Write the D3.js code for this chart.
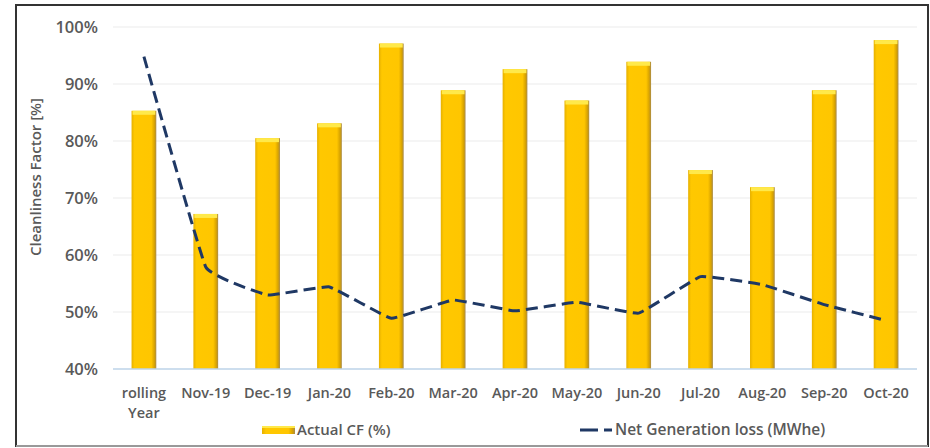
<!DOCTYPE html>
<html><head><meta charset="utf-8">
<script src="https://cdn.jsdelivr.net/npm/d3@7"></script>
<style>
body{margin:0;background:#fff;}
svg{display:block;font-family:"Open Sans",sans-serif;}
</style></head><body>
<svg id="chart" width="930" height="448"></svg>
<script>
const categories = ["rolling Year","Nov-19","Dec-19","Jan-20","Feb-20","Mar-20","Apr-20","May-20","Jun-20","Jul-20","Aug-20","Sep-20","Oct-20"];
const actualCF = [85.3, 67.2, 80.5, 83.1, 97.1, 88.9, 92.6, 87.1, 93.9, 74.9, 71.9, 88.9, 97.7];
const netGenLoss = [94.8, 57.9, 53.0, 54.4, 48.9, 52.1, 50.2, 51.7, 49.8, 56.2, 54.8, 51.3, 48.5];
const yTicks = [40, 50, 60, 70, 80, 90, 100];
const seriesNames = ["Actual CF (%)", "Net Generation loss (MWhe)"];

const svg = d3.select("#chart");
const m = {left:113, right:917, top:27, bottom:369};

// outer border
svg.append("rect").attr("x",16).attr("y",5).attr("width",912).attr("height",441)
  .attr("fill","#fff").attr("stroke","#333").attr("stroke-width",2);
svg.append("line").attr("x1",16).attr("x2",928).attr("y1",446).attr("y2",446)
  .attr("stroke","#999").attr("stroke-width",2);

const x = d3.scaleBand().domain(categories).range([m.left,m.right]).paddingInner(0.6).paddingOuter(0.3);
const y = d3.scaleLinear().domain([40,100]).range([m.bottom,m.top]);

// defs gradient
const defs = svg.append("defs");
const g = defs.append("linearGradient").attr("id","barg").attr("x1","0").attr("x2","1").attr("y1","0").attr("y2","0");
g.append("stop").attr("offset","0%").attr("stop-color","#e6b000");
g.append("stop").attr("offset","12%").attr("stop-color","#ffc800");
g.append("stop").attr("offset","80%").attr("stop-color","#ffc600");
g.append("stop").attr("offset","92%").attr("stop-color","#d9a400");
g.append("stop").attr("offset","100%").attr("stop-color","#a88a4a");

// gridlines
svg.append("g").selectAll("line").data(yTicks.filter(d=>d>40)).join("line")
  .attr("x1",m.left).attr("x2",m.right)
  .attr("y1",d=>y(d)).attr("y2",d=>y(d))
  .attr("stroke","#ececec").attr("stroke-width",1.2);

// y axis labels
const yAxis = d3.axisLeft(y).tickValues(yTicks).tickFormat(d=>d+"%").tickSize(0).tickPadding(0);
const ya = svg.append("g").attr("transform",`translate(98,0)`).call(yAxis);
ya.select(".domain").remove();
ya.selectAll("text").attr("font-size",16.5).attr("font-weight",600).attr("fill","#595959")
  .attr("font-family","Open Sans, sans-serif").attr("dy","0.35em");

// y title
svg.append("text").attr("transform","translate(41,177) rotate(-90)")
  .attr("text-anchor","middle").attr("font-size",15).attr("font-weight",600).attr("fill","#595959")
  .text("Cleanliness Factor [%]");

// bars
const bars = svg.append("g").selectAll("g").data(categories).join("g");
bars.append("rect")
  .attr("x",(d)=>x(d)).attr("width",x.bandwidth())
  .attr("y",(d,i)=>y(actualCF[i])).attr("height",(d,i)=>y(40)-y(actualCF[i]))
  .attr("fill","url(#barg)");
bars.append("rect")
  .attr("x",(d)=>x(d)+1).attr("width",x.bandwidth()-2)
  .attr("y",(d,i)=>y(actualCF[i])).attr("height",4)
  .attr("fill","#ffe94a");

// x axis baseline
svg.append("line").attr("x1",m.left).attr("x2",m.right).attr("y1",y(40)).attr("y2",y(40))
  .attr("stroke","#bcd3e8").attr("stroke-width",1.5);

// x labels
const xa = svg.append("g");
categories.forEach((c)=>{
  const cx = x(c)+x.bandwidth()/2;
  const parts = c==="rolling Year" ? ["rolling","Year"] : [c];
  const t = xa.append("text").attr("x",cx).attr("y",398).attr("text-anchor","middle")
    .attr("font-size",14.5).attr("font-weight",600).attr("fill","#595959");
  parts.forEach((p,j)=>t.append("tspan").attr("x",cx).attr("dy",j?20:0).text(p));
});

// line
const line = d3.line().x((d,i)=>x(categories[i])+x.bandwidth()/2).y(d=>y(d)).curve(d3.curveCardinal.tension(0.75));
svg.append("path").datum(netGenLoss).attr("d",line).attr("fill","none")
  .attr("stroke","#1f3864").attr("stroke-width",3).attr("stroke-dasharray","12,6");

// legend
svg.append("rect").attr("x",262).attr("y",426).attr("width",33).attr("height",8).attr("fill","url(#barg)");
svg.append("rect").attr("x",262).attr("y",426).attr("width",33).attr("height",2).attr("fill","#ffe94a");
svg.append("text").attr("x",297).attr("y",435).attr("font-size",15).attr("font-weight",600).attr("fill","#595959").text(seriesNames[0]);
svg.append("line").attr("x1",580).attr("x2",612).attr("y1",430).attr("y2",430)
  .attr("stroke","#1f3864").attr("stroke-width",3).attr("stroke-dasharray","18,6");
svg.append("text").attr("x",615).attr("y",435).attr("font-size",15.5).attr("font-weight",600).attr("fill","#595959").text(seriesNames[1]);
</script></body></html>
